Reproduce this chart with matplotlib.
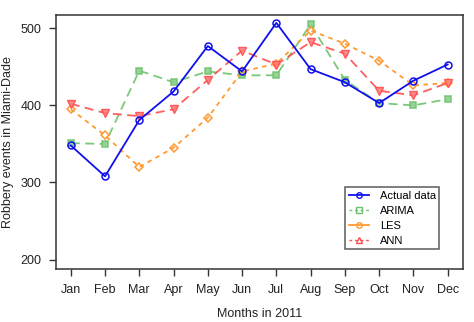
import matplotlib.pyplot as plt
from matplotlib.lines import Line2D

plt.rcParams['font.family'] = ['Liberation Sans', 'DejaVu Sans']

months = ['Jan', 'Feb', 'Mar', 'Apr', 'May', 'Jun', 'Jul', 'Aug', 'Sep', 'Oct', 'Nov', 'Dec']
actual = [348, 308, 381, 418, 477, 444, 507, 447, 430, 403, 432, 453]
arima = [351, 350, 445, 430, 444, 439, 439, 505, 433, 403, 400, 408]
les = [395, 361, 320, 345, 384, 444, 454, 497, 480, 458, 426, 429]
ann = [402, 390, 386, 395, 433, 471, 453, 482, 467, 419, 413, 429]

x = list(range(1, len(months) + 1))

fig = plt.figure(figsize=(4.74, 3.22), dpi=100)
ax = fig.add_axes([0.1175, 0.1646, 0.8587, 0.7888])

ax.plot(x, actual, color='#1010ee', lw=1.3, marker='o', ms=5, mfc='none',
        mec='#1010ee', mew=1.1, zorder=5)
ax.plot(x, arima, color='#6cc26c', lw=1.3, ls=(0, (5, 3)), marker='s', ms=5,
        mfc='#8fd08f', mec='#6cc26c', mew=1.1, alpha=0.9, zorder=3)
ax.plot(x, les, color='#ff9a33', lw=1.3, ls=(0, (2.5, 2.5)), marker='D', ms=4.5,
        mfc='none', mec='#ff9a33', mew=1.1, zorder=3)
ax.plot(x, ann, color='#ff4d4d', lw=1.3, ls=(0, (5, 3)), marker='v', ms=6,
        mfc='#ff8080', mec='#ff4d4d', mew=1.0, alpha=0.9, zorder=4)

ax.set_xlim(0.56, 12.44)
ax.set_ylim(187.8, 517.2)
ax.set_xticks(x)
ax.set_xticklabels(months)
ax.set_yticks([200, 300, 400, 500])
ax.tick_params(direction='out', length=5, width=1, color='#333333',
               labelsize=9, labelcolor='#222222')
ax.tick_params(axis='x', pad=6)
ax.tick_params(axis='y', pad=5)
for s in ax.spines.values():
    s.set_color('#333333')
    s.set_linewidth(1.1)

ax.set_xlabel('Months in 2011', fontsize=9, color='#222222', va='center')
ax.set_ylabel('Robbery events in Miami-Dade', fontsize=9, color='#222222', va='center')
ax.xaxis.set_label_coords(0.5, -0.177)
ax.yaxis.set_label_coords(-0.117, 0.5)

handles = [
    Line2D([], [], color='#1010ee', lw=1.3, marker='o', ms=4, mfc='none', mec='#1010ee'),
    Line2D([], [], color='#6cc26c', lw=1.0, ls=(0, (2, 2)), marker='s', ms=4, mfc='none', mec='#6cc26c'),
    Line2D([], [], color='#ff9a33', lw=1.3, marker='o', ms=4, mfc='none', mec='#ff9a33'),
    Line2D([], [], color='#ff4d4d', lw=1.0, ls=(0, (2, 2)), marker='^', ms=5, mfc='none', mec='#ff4d4d'),
]
leg = ax.legend(handles, ['Actual data', 'ARIMA', 'LES', 'ANN'], loc='lower right',
                bbox_to_anchor=(0.9425, 0.079), borderaxespad=0, fontsize=8,
                frameon=True, fancybox=False, edgecolor='#333333',
                handlelength=1.8, borderpad=0.3, labelspacing=0.45,
                handletextpad=1.0)
leg.get_frame().set_linewidth(1.1)

fig.savefig('out.png', dpi=100)
